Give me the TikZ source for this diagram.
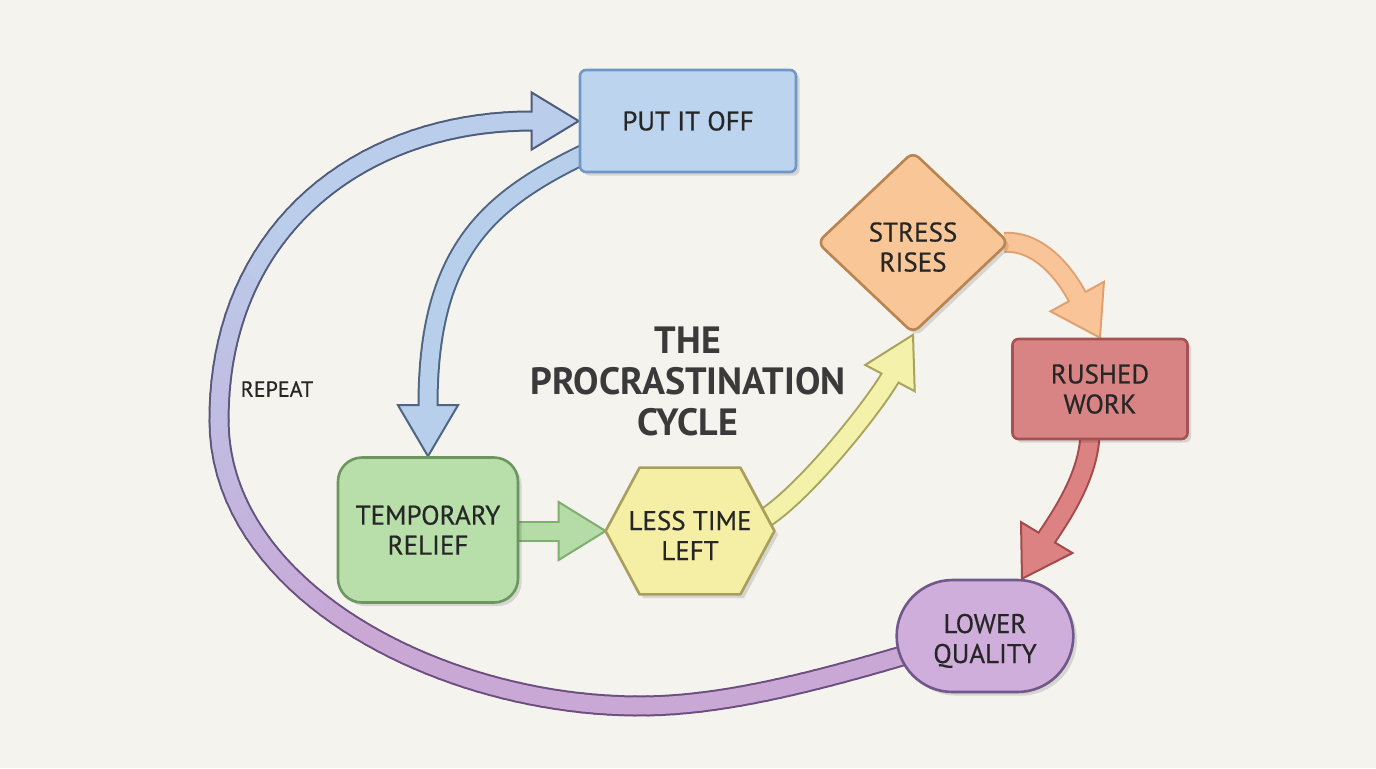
\documentclass[tikz,border=0pt]{standalone}
\usepackage{fontspec}
\setmainfont{PT Sans}
\newfontfamily\lblfont{PT Sans}[FakeBold=0.5]
\usetikzlibrary{calc,shapes.geometric,shapes.misc,shadows,decorations.markings}
\definecolor{bg}{HTML}{F4F3EE}
\definecolor{txt}{HTML}{262626}
\definecolor{ttl}{HTML}{3A3A3A}
\definecolor{pioF}{HTML}{BDD4EE}\definecolor{pioD}{HTML}{6F98C8}
\definecolor{blF}{HTML}{B7CFEA}\definecolor{blO}{HTML}{4E6684}
\definecolor{trF}{HTML}{B8DFAA}\definecolor{trD}{HTML}{6C9660}
\definecolor{grF}{HTML}{B5DBA6}\definecolor{grO}{HTML}{7FAE70}
\definecolor{ltF}{HTML}{F5EFA5}\definecolor{ltD}{HTML}{A89F5E}
\definecolor{yeF}{HTML}{F4F1AA}\definecolor{yeO}{HTML}{A9A35C}
\definecolor{stF}{HTML}{F9C698}\definecolor{stD}{HTML}{B9844F}
\definecolor{orF}{HTML}{F9C598}\definecolor{orO}{HTML}{E0A070}
\definecolor{rwF}{HTML}{D98484}\definecolor{rwD}{HTML}{A65252}
\definecolor{reF}{HTML}{DC8282}\definecolor{reO}{HTML}{A44A4A}
\definecolor{lqF}{HTML}{CFAEDC}\definecolor{lqD}{HTML}{71588A}
\definecolor{lpPF}{HTML}{C9A8D6}\definecolor{lpPO}{HTML}{6C4F80}
\definecolor{lpBF}{HTML}{BACDEB}\definecolor{lpBO}{HTML}{4F5D7D}
\pgfdeclarelayer{bgl}\pgfdeclarelayer{arr}\pgfdeclarelayer{hex}
\pgfsetlayers{bgl,arr,hex,main}
\newcommand\ahead[5]{\filldraw[#5] (#1) -- ($(#1)+(#2+180:#3)+(#2+90:#4/2)$) -- ($(#1)+(#2+180:#3)+(#2-90:#4/2)$) -- cycle;}
\newcommand\lowtext[2]{\raisebox{-#1}[\height][\depth]{\begin{tabular}{@{}c@{}}#2\end{tabular}}}
\tikzset{
  lbl/.style={font=\lblfont\fontsize{13.5}{15}\selectfont, align=center, text=txt},
  shad/.style={drop shadow={shadow xshift=1.8pt, shadow yshift=-1.8pt, fill=black, opacity=0.12}},
  nodeline/.style={line width=1.3pt},
  boxpio/.style={lbl, shad, nodeline, draw=pioD, fill=pioF, rounded corners=3pt, minimum width=108pt, minimum height=51pt},
  boxtr/.style={lbl, shad, nodeline, draw=trD, fill=trF, rounded corners=12pt, minimum width=90pt, minimum height=72.5pt},
  boxst/.style={lbl, shad, nodeline, draw=stD, fill=stF, shape=diamond, rounded corners=4pt, inner sep=0pt, minimum width=96pt, minimum height=91pt},
  boxrw/.style={lbl, shad, nodeline, draw=rwD, fill=rwF, rounded corners=3pt, minimum width=87.5pt, minimum height=50pt},
  boxlq/.style={lbl, shad, nodeline, draw=lqD, fill=lqF, shape=rounded rectangle, minimum width=95pt, minimum height=56pt},
  boxlt/.style={lbl, minimum width=84pt, minimum height=63pt},
  bandO/.style={line width=10.5pt},
  bandF/.style={line width=8.5pt},
  headst/.style={line width=1pt, line join=miter},
}
\begin{document}
\begin{tikzpicture}[x=0.5pt,y=-0.5pt]
\begin{pgfonlayer}{bgl}
\fill[bg] (0,0) rectangle (1376,768);
\end{pgfonlayer}
\useasboundingbox (0,0) rectangle (1376,768);

% nodes
\node[boxpio] (pio) at (688,121) {PUT IT OFF};
\node[boxtr] (tr) at (428,530) {TEMPORARY\\RELIEF};
\node[boxlt] (ltl) at (690,531) {\lowtext{4pt}{LESS TIME\\LEFT}};
\node[boxst] (st) at (913,242.5) {\lowtext{4pt}{STRESS\\RISES}};
\node[boxrw] (rw) at (1100,389) {RUSHED\\WORK};
\node[boxlq] (lq) at (985,636) {\lowtext{3pt}{LOWER\\QUALITY}};
\node[font=\bfseries\fontsize{19}{20.5}\selectfont, text=ttl, align=center] (title) at (688,381) {THE\\PROCRASTINATION\\CYCLE};
\node[font=\lblfont\fontsize{11}{13}\selectfont, text=txt] (rep) at (277,389) {REPEAT};

% hexagon outline for LESS TIME LEFT
\begin{pgfonlayer}{hex}
\filldraw[shad, nodeline, draw=ltD, fill=ltF, line join=round]
  (ltl.west) -- ($(ltl.north west)+(34,0)$) -- ($(ltl.north east)+(-34,0)$) -- (ltl.east)
  -- ($(ltl.south east)+(-34,0)$) -- ($(ltl.south west)+(34,0)$) -- cycle;
\end{pgfonlayer}

% connector end points
\coordinate (ltlW) at (ltl.west);
\coordinate (a1s) at ($(pio.south west)+(5,-19)$);
\coordinate (b1) at ($(tr.north)+(0,-51)$);
\coordinate (a2s) at ($(tr.east)+(-5,1)$);
\coordinate (b2) at ($(ltlW)+(-47,0)$);
\coordinate (a3s) at (762,520);
\coordinate (b3) at ($(st.south)+(118:49)$);
\coordinate (a4s) at ($(st.east)+(-6,0)$);
\coordinate (b4) at ($(rw.north)+(241:47)$);
\coordinate (a5s) at ($(rw.south)+(-10,-5)$);
\coordinate (lqT) at ($(lq.north)+(37,0)$);
\coordinate (b5) at ($(lqT)+(301:48)$);
\coordinate (ls) at ($(lq.west)+(10,19)$);
\coordinate (lb) at ($(pio.west)+(-47,0)$);

\begin{pgfonlayer}{arr}
% big REPEAT loop with colour blend
\path[decorate, decoration={markings, mark=between positions 0 and 1 step 0.01 with {\coordinate (lp\pgfkeysvalueof{/pgf/decoration/mark info/sequence number});}}]
  (ls) .. controls (810,683) and (720,706) .. (640,706)
       .. controls (440,706) and (219,590) .. (219,420)
       .. controls (219,230) and (360,121) .. (lb);
\foreach \i in {1,...,99}{
  \pgfmathtruncatemacro\j{\i+1}
  \pgfmathtruncatemacro\m{max(0,min(100,(\i-45)*100/35))}
  \draw[bandO, line cap=round, draw=lpBO!\m!lpPO] (lp\i) -- (lp\j);
}
\draw[bandO, line cap=round, draw=lpBO] (lp100) -- (lb);
\ahead{pio.west}{0}{47}{57}{headst, fill=lpBF, draw=lpBO}
\foreach \i in {1,...,99}{
  \pgfmathtruncatemacro\j{\i+1}
  \pgfmathtruncatemacro\m{max(0,min(100,(\i-45)*100/35))}
  \draw[bandF, line cap=round, draw=lpBF!\m!lpPF] (lp\i) -- (lp\j);
}
\draw[bandF, line cap=round, draw=lpBF] (lp100) -- (lb) -- ++(0:4);

% PUT IT OFF -> TEMPORARY RELIEF
\draw[bandO, draw=blO] (a1s) .. controls (490,200) and (428,250) .. (b1);
\ahead{tr.north}{90}{51}{60}{headst, fill=blF, draw=blO}
\draw[bandF, draw=blF] (a1s) .. controls (490,200) and (428,250) .. (b1) -- ++(90:4);

% TEMPORARY RELIEF -> LESS TIME LEFT
\draw[bandO, draw=grO] (a2s) -- (b2);
\ahead{ltlW}{0}{47}{58}{headst, fill=grF, draw=grO}
\draw[bandF, draw=grF] (a2s) -- (b2) -- ++(0:4);

% LESS TIME LEFT -> STRESS RISES
\draw[bandO, draw=yeO] (a3s) .. controls (803,495) and (871,410) .. (b3);
\ahead{st.south}{-62}{49}{56}{headst, fill=yeF, draw=yeO}
\draw[bandF, draw=yeF] (a3s) .. controls (803,495) and (871,410) .. (b3) -- ++(-62:4);

% STRESS RISES -> RUSHED WORK
\draw[bandO, draw=orO] (a4s) .. controls (1035,240) and (1062,268) .. (b4);
\ahead{rw.north}{61}{47}{61}{headst, fill=orF, draw=orO}
\draw[bandF, draw=orF] (a4s) .. controls (1035,240) and (1062,268) .. (b4) -- ++(61:4);

% RUSHED WORK -> LOWER QUALITY
\draw[bandO, draw=reO] (a5s) .. controls (1088,475) and (1064,512) .. (b5);
\ahead{lqT}{121}{48}{60}{headst, fill=reF, draw=reO}
\draw[bandF, draw=reF] (a5s) .. controls (1088,475) and (1064,512) .. (b5) -- ++(121:4);
\end{pgfonlayer}
\end{tikzpicture}
\end{document}
